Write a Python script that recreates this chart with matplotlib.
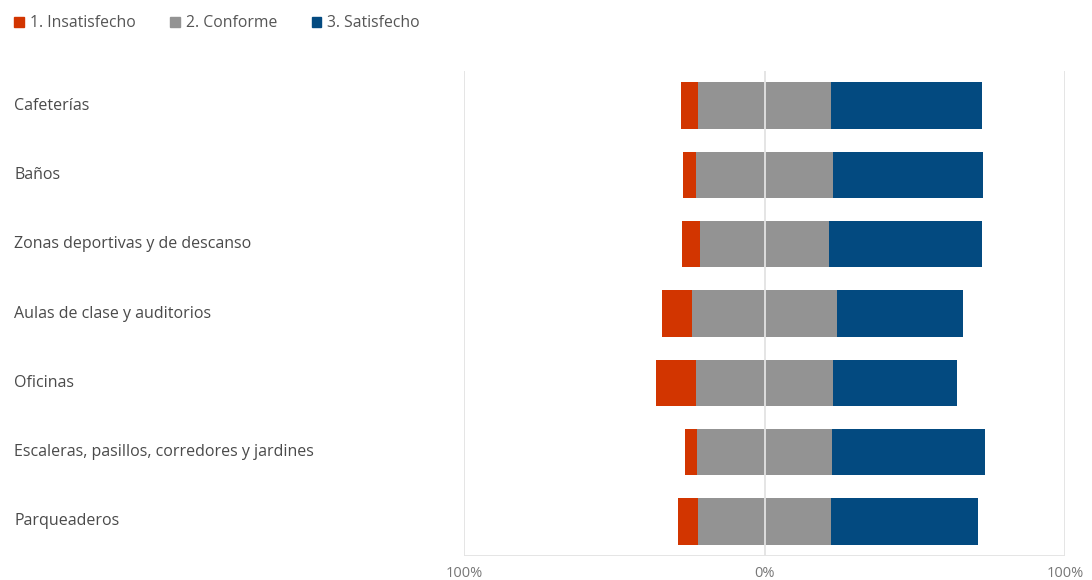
import matplotlib.pyplot as plt
import numpy as np
from matplotlib.patches import Patch
from matplotlib.transforms import blended_transform_factory

plt.rcParams['font.family'] = ['Open Sans', 'DejaVu Sans']

categories = ["Cafeterías", "Baños", "Zonas deportivas y de descanso",
              "Aulas de clase y auditorios", "Oficinas",
              "Escaleras, pasillos, corredores y jardines", "Parqueaderos"]
insatisfecho = [5.5, 4.5, 6.2, 10.1, 13.2, 4.0, 6.8]
conforme = [44.4, 45.3, 42.6, 48.0, 45.6, 45.1, 44.2]
satisfecho = [50.1, 50.2, 51.2, 41.9, 41.2, 50.9, 49.0]
series_names = ["1. Insatisfecho", "2. Conforme", "3. Satisfecho"]
tick_vals = [-100, 0, 100]
tick_labels = ["100%", "0%", "100%"]

c_red, c_gray, c_blue = '#D23500', '#939393', '#034A80'

fig = plt.figure(figsize=(10.92, 5.8), dpi=100)
ax = fig.add_axes([464 / 1092, 1 - 556 / 580, (1065 - 464) / 1092, (556 - 71) / 580])

ins = np.array(insatisfecho)
con = np.array(conforme)
sat = np.array(satisfecho)
y = np.arange(len(categories))
h = 0.67

# neutral block is centred on zero, negatives to the left
ax.barh(y, ins, left=-con / 2 - ins, height=h, color=c_red, zorder=2)
ax.barh(y, con, left=-con / 2, height=h, color=c_gray, zorder=2)
ax.barh(y, sat, left=con / 2, height=h, color=c_blue, zorder=2)

ax.set_xlim(-100, 100)
ax.set_ylim(len(categories) - 0.5, -0.5)
for v in tick_vals:
    ax.axvline(v, color='#e3e3e3', lw=1.3, zorder=3)
ax.axhline(len(categories) - 0.5, color='#e3e3e3', lw=1.3, zorder=3)

for s in ax.spines.values():
    s.set_visible(False)
ax.set_yticks([])
ax.set_xticks(tick_vals)
ax.set_xticklabels(tick_labels, color='#777777', fontsize=10.5)
ax.tick_params(axis='x', length=0, pad=7)

trans = blended_transform_factory(fig.transFigure, ax.transData)
for yi, name in zip(y, categories):
    ax.text(14 / 1092, yi, name, transform=trans, ha='left', va='center',
            fontsize=11.5, color='#4a4a4a')

handles = [Patch(color=c) for c in (c_red, c_gray, c_blue)]
fig.legend(handles, series_names, loc='upper left', bbox_to_anchor=(0, 1 - 1 / 580),
           ncol=3, frameon=False, handlelength=0.6, handleheight=0.6,
           handletextpad=0.4, columnspacing=2.2, fontsize=11.3, labelcolor='#555555')

fig.savefig('out.png', dpi=100)
